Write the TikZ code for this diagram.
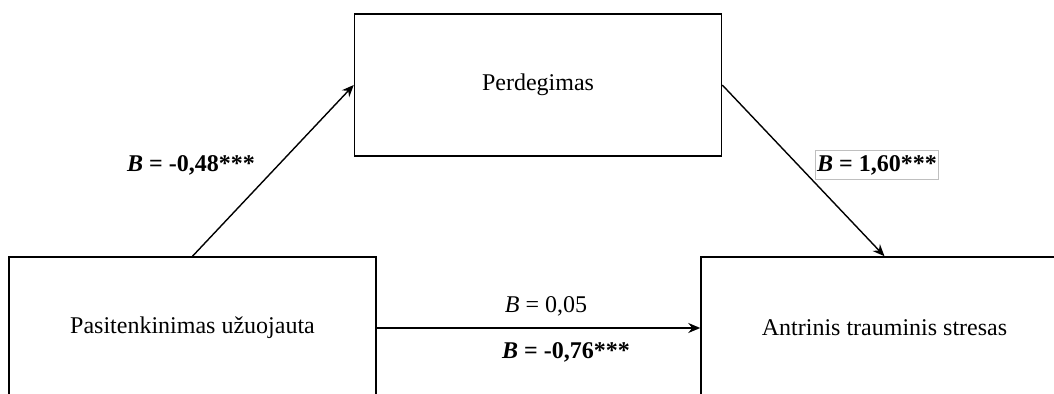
\documentclass[tikz,border=0pt]{standalone}
\usepackage{fontspec}
\setmainfont{Liberation Serif}
\usetikzlibrary{arrows.meta,positioning}

\begin{document}
\begin{tikzpicture}[
    x=0.5pt, y=-0.5pt,
    font=\fontsize{12}{14}\selectfont,
    var/.style={rectangle, draw=black, line width=0.75pt, fill=white,
      minimum width=183.5pt, minimum height=71pt, align=center, inner sep=0pt},
    coef/.style={inner sep=1.5pt},
    coefbox/.style={coef, inner xsep=1pt, inner ysep=2.5pt,
      draw=black!25, line width=0.4pt, fill=white},
    arr/.style={-{Stealth[length=6pt, width=5pt, inset=2pt]}, line width=0.7pt, draw=black}
  ]
    \useasboundingbox (0,0) rectangle (1054,394);
    \clip (0,0) rectangle (1054,394);

    \node[var] (pas) at (192.5,328) {Pasitenkinimas užuojauta};
    \node[var] (per) at (538,85) {Perdegimas};
    \node[var] (ats) at (884.5,328) {Antrinis trauminis stresas};

    \draw[arr] (pas.north) -- (per.west);
    \draw[arr] (per.east) -- (ats.north);
    \draw[arr] (pas.east) -- (ats.west);

    \node[coef] (ca) at (191,165) {\textbf{\textit{B} = -0,48***}};
    \node[coefbox] (cb) at (877,165) {\textbf{\textit{B} = 1,60***}};
    \node[coef] (cc) at (546,306) {\textit{B} = 0,05};
    \node[coef] (cd) at (566,352) {\textbf{\textit{B} = -0,76***}};
  \end{tikzpicture}
\end{document}
